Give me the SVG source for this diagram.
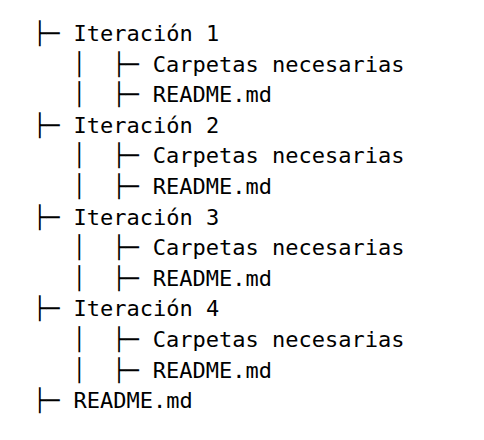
<svg xmlns="http://www.w3.org/2000/svg" width="484" height="440" viewBox="0 0 484 440">
<style>
text{font-family:"DejaVu Sans Mono","Liberation Mono",monospace;font-size:22px;fill:#000;white-space:pre}
</style>
<rect width="484" height="440" fill="#fff"/>
<g id="connectors">
<text x="33" y="41">├─</text>
<text x="72.6" y="71.6">│</text><text x="112.2" y="71.6">├─</text>
<text x="72.6" y="102.2">│</text><text x="112.2" y="102.2">├─</text>
<text x="33" y="132.8">├─</text>
<text x="72.6" y="163.4">│</text><text x="112.2" y="163.4">├─</text>
<text x="72.6" y="194">│</text><text x="112.2" y="194">├─</text>
<text x="33" y="224.6">├─</text>
<text x="72.6" y="255.2">│</text><text x="112.2" y="255.2">├─</text>
<text x="72.6" y="285.8">│</text><text x="112.2" y="285.8">├─</text>
<text x="33" y="316.4">├─</text>
<text x="72.6" y="347">│</text><text x="112.2" y="347">├─</text>
<text x="72.6" y="377.6">│</text><text x="112.2" y="377.6">├─</text>
<text x="33" y="408.2">├─</text>
</g>
<g id="it1"><text x="73.6" y="41">Iteración 1</text></g>
<g id="it1-carpetas"><text x="152.8" y="71.6">Carpetas necesarias</text></g>
<g id="it1-readme"><text x="152.8" y="102.2">README.md</text></g>
<g id="it2"><text x="73.6" y="132.8">Iteración 2</text></g>
<g id="it2-carpetas"><text x="152.8" y="163.4">Carpetas necesarias</text></g>
<g id="it2-readme"><text x="152.8" y="194">README.md</text></g>
<g id="it3"><text x="73.6" y="224.6">Iteración 3</text></g>
<g id="it3-carpetas"><text x="152.8" y="255.2">Carpetas necesarias</text></g>
<g id="it3-readme"><text x="152.8" y="285.8">README.md</text></g>
<g id="it4"><text x="73.6" y="316.4">Iteración 4</text></g>
<g id="it4-carpetas"><text x="152.8" y="347">Carpetas necesarias</text></g>
<g id="it4-readme"><text x="152.8" y="377.6">README.md</text></g>
<g id="readme"><text x="73.6" y="408.2">README.md</text></g>
</svg>
